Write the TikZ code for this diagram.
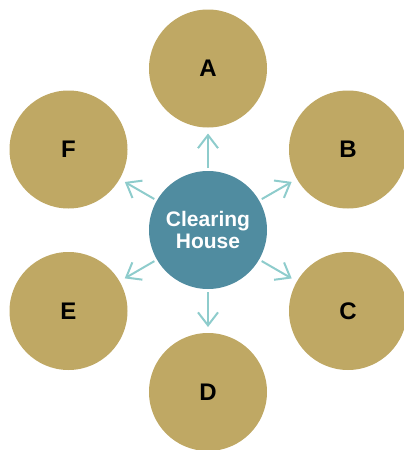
\documentclass[tikz,border=0pt]{standalone}
\usepackage{fontspec}
\setmainfont{Liberation Sans}
\usetikzlibrary{arrows.meta}
\definecolor{goldc}{HTML}{BFA864}
\definecolor{hubc}{HTML}{508CA0}
\definecolor{arrowc}{HTML}{8ECCCC}
\begin{document}
\begin{tikzpicture}[x=1pt,y=-1pt,
  outer/.style={circle,fill=goldc,minimum size=118pt,inner sep=0pt,outer sep=0pt,
    font=\fontsize{24}{24}\selectfont\bfseries},
  hub/.style={circle,fill=hubc,minimum size=118pt,inner sep=0pt,outer sep=0pt,
    text=white,align=center,font=\fontsize{21}{22}\selectfont\bfseries},
  link/.style={draw=arrowc,line width=2pt,
    -{Straight Barb[length=13pt,width=20pt]},shorten <=3pt,shorten >=6pt}]
\clip (0,0) rectangle (404,450);
\node[hub] (h) at (208,230) {Clearing\\House};
\node[outer] (a) at (208,68.5) {A};
\node[outer] (b) at (348,149.5) {B};
\node[outer] (c) at (348,311) {C};
\node[outer] (d) at (208,392) {D};
\node[outer] (e) at (68.5,311) {E};
\node[outer] (f) at (68.5,149.5) {F};
\foreach \t in {a,b,c,d,e,f} \draw[link] (h) -- (\t);
\end{tikzpicture}
\end{document}
